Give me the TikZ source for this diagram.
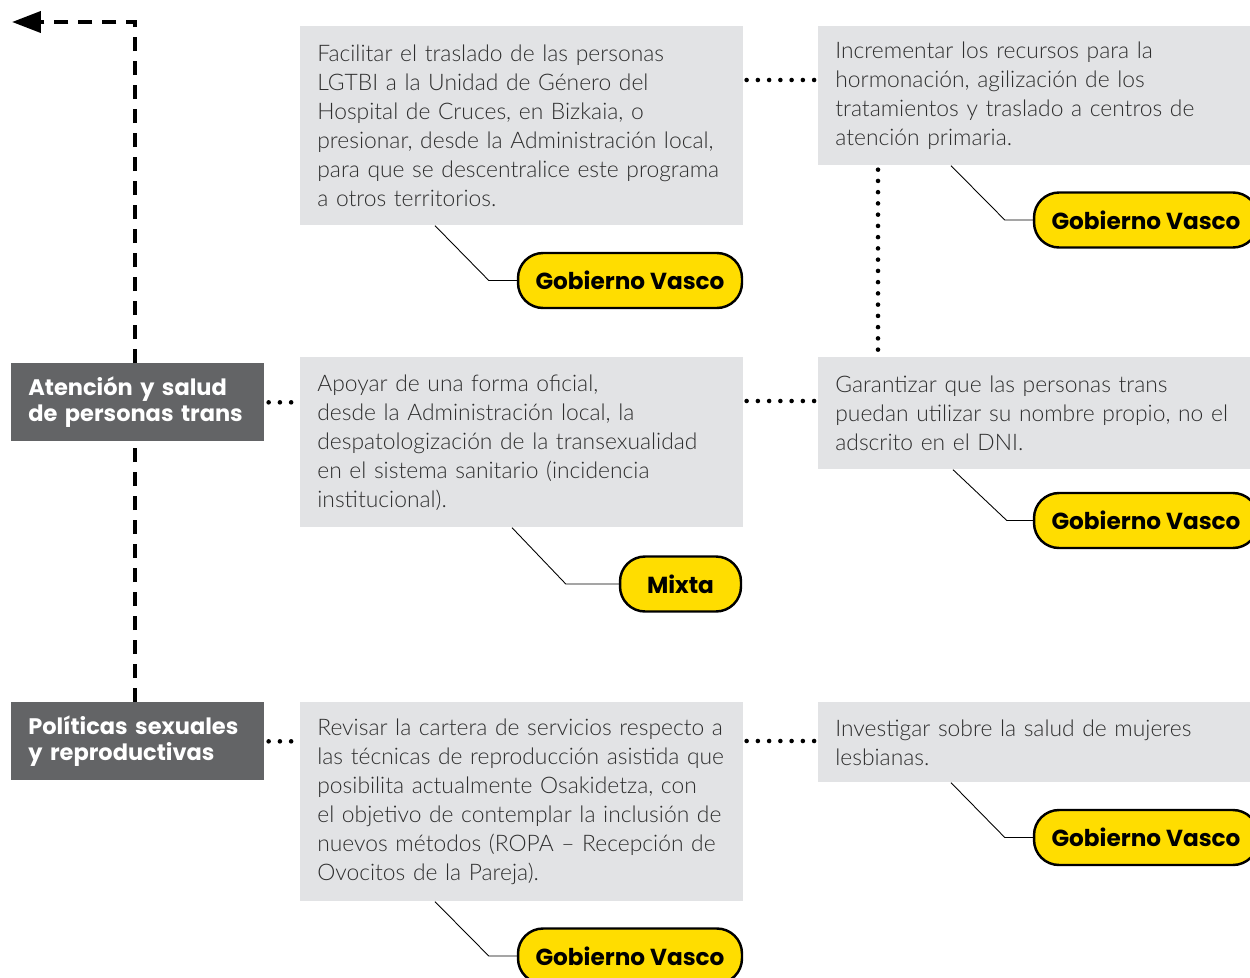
\documentclass[tikz,border=0pt]{standalone}
\usepackage{fontspec}
\setmainfont{Lato Light}
\newfontfamily\heavyfont{Poppins Bold}
\usetikzlibrary{calc,arrows.meta}
\definecolor{catgray}{HTML}{636466}
\definecolor{boxgray}{HTML}{E2E3E5}
\definecolor{tagyellow}{HTML}{FFDD00}
\definecolor{boxtext}{HTML}{2E2E2E}
\tikzstyle{category}=[anchor=north west,fill=catgray,text=white,font=\heavyfont\fontsize{12.8}{14.8}\selectfont,align=left,minimum width=5.06cm,minimum height=1.56cm,text width=4.38cm,inner xsep=0.34cm]
\tikzstyle{textbox}=[anchor=north west,fill=boxgray,text=boxtext,font=\fontsize{13}{16.5}\selectfont,align=left,minimum width=8.86cm,text width=8.18cm,inner xsep=0.34cm]
\tikzstyle{tag}=[draw=black,line width=1.4pt,fill=tagyellow,rounded corners=0.5cm,minimum height=1.1cm,font=\heavyfont\fontsize{13.2}{15}\selectfont]
\tikzstyle{dashline}=[line width=2.3pt,dash pattern=on 0.28cm off 0.2cm]
\tikzstyle{dotline}=[line width=2.6pt,line cap=round,dash pattern=on 0pt off 0.225cm]
\tikzstyle{thinline}=[line width=0.5pt]
% Syntax: [corner offset] {box}{offset along box bottom}{tag}
\newcommand{\callout}[4][28]{
\draw[thinline] ($(#2.south west)+(#3,0)$) -- ($(#4.west)+(-#1,0)$) -- (#4.west);
}
\begin{document}
\begin{tikzpicture}[x=0.02cm,y=-0.02cm]
\useasboundingbox (0,0) rectangle (1250,977);
	% categories
	\node[category] (trans) at (11,363) {Atención y salud\\de personas trans};
	\node[category] (sexual) at (11,702) {Políticas sexuales\\y reproductivas};
	% proposals
	\node[textbox,minimum height=3.98cm] (hospital) at (300,26) {Facilitar el traslado de las personas\\LGTBI a la Unidad de Género del\\Hospital de Cruces, en Bizkaia, o\\presionar, desde la Administración local,\\para que se descentralice este programa\\a otros territorios.};
	\node[textbox,minimum height=2.78cm] (hormonas) at (818,26) {Incrementar los recursos para la\\hormonación, agilización de los\\tratamientos y traslado a centros de\\atención primaria.};
	\node[textbox,minimum height=3.4cm] (despato) at (300,357) {Apoyar de una forma oficial,\\desde la Administración local, la\\despatologización de la transexualidad\\en el sistema sanitario (incidencia\\institucional).};
	\node[textbox,minimum height=2.24cm] (nombre) at (818,357) {Garantizar que las personas trans\\puedan utilizar su nombre propio, no el\\adscrito en el DNI.};
	\node[textbox,minimum height=3.98cm] (ropa) at (300,702) {Revisar la cartera de servicios respecto a\\las técnicas de reproducción asistida que\\posibilita actualmente Osakidetza, con\\el objetivo de contemplar la inclusión de\\nuevos métodos (ROPA -- Recepción de\\Ovocitos de la Pareja).};
	\node[textbox,minimum height=1.6cm] (lesbianas) at (818,702) {Investigar sobre la salud de mujeres\\lesbianas.};
	% tags
	\node[tag,minimum width=4.48cm] (tagHospital) at (630,280.5) {Gobierno Vasco};
	\node[tag,minimum width=4.48cm] (tagHormonas) at (1146,220) {Gobierno Vasco};
	\node[tag,minimum width=2.42cm] (tagDespato) at (680.5,584) {Mixta};
	\node[tag,minimum width=4.48cm] (tagNombre) at (1146,520.5) {Gobierno Vasco};
	\node[tag,minimum width=4.48cm] (tagRopa) at (630,956) {Gobierno Vasco};
	\node[tag,minimum width=4.48cm] (tagLesbianas) at (1146,837.5) {Gobierno Vasco};
	\callout{hospital}{135}{tagHospital}
	\callout{hormonas}{133}{tagHormonas}
	\callout[53]{despato}{212}{tagDespato}
	\callout[26]{nombre}{135}{tagNombre}
	\callout{ropa}{135}{tagRopa}
	\callout{lesbianas}{133}{tagLesbianas}
	% dashed spine
	\coordinate (corner) at ([xshift=-0.05cm]trans.north |- 0,22);
	\coordinate (tip) at (12,22);
	\draw[dashline] ([xshift=-0.05cm]sexual.north) -- ([xshift=-0.05cm]trans.south);
	\draw[dashline,-{Triangle[length=0.58cm,width=0.42cm]}] ([xshift=-0.05cm]trans.north) -- (corner) -- (tip);
	% dotted links
	\draw[dotline] ($(trans.east)+(4,0)$) -- ($(despato.west |- trans.east)+(-3,0)$);
	\draw[dotline] ($(sexual.east)+(4,0)$) -- ($(ropa.west |- sexual.east)+(-3,0)$);
	\draw[dotline] ($(hospital.north east)+(3,54)$) -- ($(hormonas.north west)+(-3,54)$);
	\draw[dotline] ($(despato.north east)+(3,44)$) -- ($(nombre.north west)+(-3,44)$);
	\draw[dotline] ($(ropa.north east)+(3,39)$) -- ($(lesbianas.north west)+(-3,39)$);
	\draw[dotline] ($(hormonas.south west)+(60,4)$) -- ($(nombre.north west)+(60,-4)$);
\end{tikzpicture}
\end{document}
